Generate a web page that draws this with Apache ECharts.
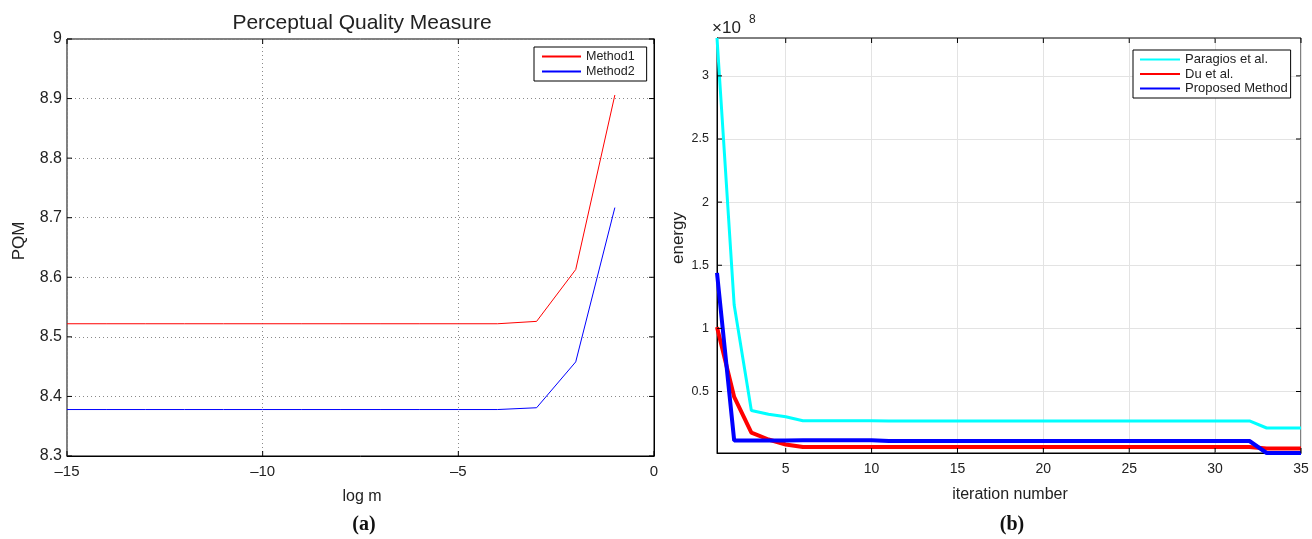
<!DOCTYPE html>
<html>
<head>
<meta charset="utf-8">
<script src="https://cdn.jsdelivr.net/npm/echarts@6/dist/echarts.min.js"></script>
<style>
html,body{margin:0;padding:0;background:#fff;}
#chart{width:1312px;height:539px;}
</style>
</head>
<body>
<div id="chart"></div>
<script>
// ---- Panel (a) data ----
const logM = [-15,-14,-13,-12,-11,-10,-9,-8,-7,-6,-5,-4,-3,-2,-1];
const method1 = [8.522,8.522,8.522,8.522,8.522,8.522,8.522,8.522,8.522,8.522,8.522,8.522,8.526,8.613,8.906];
const method2 = [8.378,8.378,8.378,8.378,8.378,8.378,8.378,8.378,8.378,8.378,8.378,8.378,8.381,8.458,8.717];
const xTicksA = [-15,-10,-5,0];
const yTicksA = [8.3,8.4,8.5,8.6,8.7,8.8,8.9,9];

// ---- Panel (b) data ----
const iterations = [1,2,3,4,5,6,7,8,9,10,11,12,13,14,15,16,17,18,19,20,21,22,23,24,25,26,27,28,29,30,31,32,33,34,35];
const paragios = [3.30e8,1.185e8,0.35e8,0.32e8,0.30e8,0.268e8,0.268e8,0.268e8,0.268e8,0.268e8,0.267e8,0.267e8,0.267e8,0.267e8,0.267e8,0.267e8,0.267e8,0.267e8,0.267e8,0.267e8,0.267e8,0.267e8,0.267e8,0.267e8,0.267e8,0.267e8,0.267e8,0.267e8,0.267e8,0.267e8,0.267e8,0.267e8,0.211e8,0.211e8,0.211e8];
const duEtAl = [1.01e8,0.457e8,0.175e8,0.12e8,0.08e8,0.06e8,0.06e8,0.06e8,0.06e8,0.06e8,0.06e8,0.06e8,0.06e8,0.06e8,0.06e8,0.06e8,0.06e8,0.06e8,0.06e8,0.06e8,0.06e8,0.06e8,0.06e8,0.06e8,0.06e8,0.06e8,0.06e8,0.06e8,0.06e8,0.06e8,0.06e8,0.06e8,0.048e8,0.048e8,0.048e8];
const proposed = [1.44e8,0.112e8,0.112e8,0.112e8,0.112e8,0.114e8,0.114e8,0.114e8,0.114e8,0.114e8,0.108e8,0.108e8,0.108e8,0.108e8,0.108e8,0.108e8,0.108e8,0.108e8,0.108e8,0.108e8,0.108e8,0.108e8,0.108e8,0.108e8,0.108e8,0.108e8,0.108e8,0.108e8,0.108e8,0.108e8,0.108e8,0.108e8,0.013e8,0.013e8,0.013e8];
const xTicksB = [5,10,15,20,25,30,35];
const yTicksB = [0.5e8,1e8,1.5e8,2e8,2.5e8,3e8];

const FONT = '"Liberation Sans", Arial, Helvetica, sans-serif';
const TXT = '#222';

function pairs(xs, ys){ return xs.map((x,i)=>[x, ys[i]]); }
function fmtA(v){ return String(+v.toFixed(1)).replace('-', '\u2013'); }
function fmtB(v){ return String(+(v/1e8).toFixed(1)); }

const LINE = {show:true, lineStyle:{color:'#000', width:1}};

// Build inward tick marks on all four edges: [x, y, direction]
// direction: 0 = up (from bottom edge), 1 = down (from top edge), 2 = right (from left edge), 3 = left (from right edge)
function edgeTicks(xt, yt, xmin, xmax, ymin, ymax){
  const out = [];
  xt.forEach(v => { out.push([v, ymin, 0]); out.push([v, ymax, 1]); });
  yt.forEach(v => { out.push([xmin, v, 2]); out.push([xmax, v, 3]); });
  return out;
}
function renderTick(params, api){
  const p = api.coord([api.value(0), api.value(1)]);
  const d = api.value(2), L = 5;
  const dx = d === 2 ? L : d === 3 ? -L : 0;
  const dy = d === 0 ? -L : d === 1 ? L : 0;
  return {type:'line', shape:{x1:p[0], y1:p[1], x2:p[0]+dx, y2:p[1]+dy},
          style:{stroke:'#000', lineWidth:1}};
}

const chart = echarts.init(document.getElementById('chart'), null, {renderer:'canvas'});
chart.setOption({
  animation:false,
  backgroundColor:'#fff',
  textStyle:{fontFamily:FONT},
  grid:[
    {left:67, top:39, width:587, height:417, show:true, borderColor:'#000', borderWidth:1, containLabel:false},
    {left:717, top:38, width:584, height:415, show:true, borderColor:'#000', borderWidth:1, containLabel:false}
  ],
  xAxis:[
    {gridIndex:0, type:'value', min:-15, max:0, interval:5, position:'bottom',
     axisLine:LINE, axisTick:{show:false},
     axisLabel:{color:TXT, fontSize:15, margin:8, fontFamily:FONT, formatter:fmtA},
     splitLine:{show:true, lineStyle:{color:'#8a8a8a', width:1, type:[1,3]}}},
    {gridIndex:1, type:'value', min:1, max:35, position:'bottom',
     axisLine:LINE, axisTick:{show:false, customValues:xTicksB},
     axisLabel:{color:TXT, fontSize:14, margin:9, fontFamily:FONT, customValues:xTicksB},
     splitLine:{show:true, lineStyle:{color:'#e3e3e3', width:1}}}
  ],
  yAxis:[
    {gridIndex:0, type:'value', min:8.3, max:9, interval:0.1, position:'left',
     axisLine:LINE, axisTick:{show:false},
     axisLabel:{color:TXT, fontSize:16, margin:5, fontFamily:FONT, formatter:fmtA},
     splitLine:{show:true, lineStyle:{color:'#8a8a8a', width:1, type:[1,3]}}},
    {gridIndex:1, type:'value', min:0.013e8, max:3.30e8, position:'left',
     axisLine:LINE, axisTick:{show:false, customValues:yTicksB},
     axisLabel:{color:TXT, fontSize:12.5, margin:8, fontFamily:FONT, customValues:yTicksB, formatter:fmtB},
     splitLine:{show:true, lineStyle:{color:'#e3e3e3', width:1}}}
  ],
  legend:[
    {data:['Method1','Method2'], orient:'vertical', left:534, top:47,
     borderColor:'#000', borderWidth:1, backgroundColor:'#fff', borderRadius:0,
     padding:[3,12,3,7], itemWidth:39, itemHeight:14, itemGap:2,
     itemStyle:{opacity:0},
     textStyle:{fontSize:12.5, color:TXT, fontFamily:FONT}},
    {data:['Paragios et al.','Du et al.','Proposed Method'], orient:'vertical', left:1133, top:50,
     borderColor:'#000', borderWidth:1, backgroundColor:'#fff', borderRadius:0,
     padding:[3,3,3,6], itemWidth:40, itemHeight:12.5, itemGap:1.5,
     itemStyle:{opacity:0},
     textStyle:{fontSize:13, color:TXT, fontFamily:FONT}}
  ],
  series:[
    {name:'ticksA', type:'custom', xAxisIndex:0, yAxisIndex:0, clip:false, silent:true, z:10,
     data:edgeTicks(xTicksA, yTicksA, -15, 0, 8.3, 9), renderItem:renderTick},
    {name:'ticksB', type:'custom', xAxisIndex:1, yAxisIndex:1, clip:false, silent:true, z:10,
     data:edgeTicks(xTicksB, yTicksB, 1, 35, 0.013e8, 3.30e8), renderItem:renderTick},
    {name:'Method1', type:'line', xAxisIndex:0, yAxisIndex:0, data:pairs(logM, method1),
     symbol:'none', lineStyle:{color:'#ff0000', width:1}, itemStyle:{color:'#ff0000'}},
    {name:'Method2', type:'line', xAxisIndex:0, yAxisIndex:0, data:pairs(logM, method2),
     symbol:'none', lineStyle:{color:'#0000ff', width:1}, itemStyle:{color:'#0000ff'}},
    {name:'Paragios et al.', type:'line', xAxisIndex:1, yAxisIndex:1, data:pairs(iterations, paragios),
     symbol:'none', lineStyle:{color:'#00ffff', width:3}, itemStyle:{color:'#00ffff'}},
    {name:'Du et al.', type:'line', xAxisIndex:1, yAxisIndex:1, data:pairs(iterations, duEtAl),
     symbol:'none', lineStyle:{color:'#ff0000', width:4}, itemStyle:{color:'#ff0000'}},
    {name:'Proposed Method', type:'line', xAxisIndex:1, yAxisIndex:1, data:pairs(iterations, proposed),
     symbol:'none', lineStyle:{color:'#0000ff', width:4}, itemStyle:{color:'#0000ff'}}
  ],
  graphic:[
    {type:'text', x:362, y:23, style:{text:'Perceptual Quality Measure', fill:TXT, font:'21px '+FONT, align:'center', verticalAlign:'middle'}},
    {type:'text', x:19, y:241, rotation:Math.PI/2, style:{text:'PQM', fill:TXT, font:'17px '+FONT, align:'center', verticalAlign:'middle'}},
    {type:'text', x:362, y:497, style:{text:'log m', fill:TXT, font:'16px '+FONT, align:'center', verticalAlign:'middle'}},
    {type:'text', x:364, y:525, style:{text:'(a)', fill:'#111', font:'bold 20px "Liberation Serif", "Times New Roman", serif', align:'center', verticalAlign:'middle'}},
    {type:'text', x:678, y:238, rotation:Math.PI/2, style:{text:'energy', fill:TXT, font:'17px '+FONT, align:'center', verticalAlign:'middle'}},
    {type:'text', x:1010, y:495, style:{text:'iteration number', fill:TXT, font:'16px '+FONT, align:'center', verticalAlign:'middle'}},
    {type:'text', x:1012, y:525, style:{text:'(b)', fill:'#111', font:'bold 20px "Liberation Serif", "Times New Roman", serif', align:'center', verticalAlign:'middle'}},
    {type:'text', x:712, y:28, style:{text:'\u00d710', fill:TXT, font:'17px '+FONT, align:'left', verticalAlign:'middle'}},
    {type:'text', x:749, y:20, style:{text:'8', fill:TXT, font:'12px '+FONT, align:'left', verticalAlign:'middle'}}
  ]
});
</script>
</body>
</html>
